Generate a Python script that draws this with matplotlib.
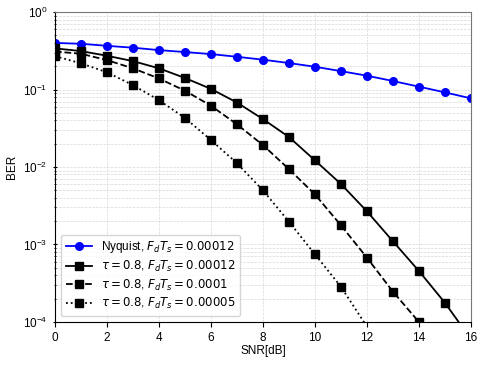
import numpy as np
import matplotlib
matplotlib.use("Agg")
import matplotlib.pyplot as plt

snr = np.arange(0, 17)

ber_nyquist = [0.40, 0.39, 0.367, 0.347, 0.323, 0.305, 0.287, 0.265, 0.243,
               0.22, 0.197, 0.173, 0.151, 0.129, 0.109, 0.092, 0.077]
ber_tau_12 = [0.34, 0.314, 0.273, 0.233, 0.188, 0.141, 0.102, 0.068, 0.0416,
              0.0244, 0.0122, 0.00604, 0.00268, 0.0011, 0.000455, 0.000177, 0.00006]
ber_tau_10 = [0.31, 0.29, 0.24, 0.188, 0.139, 0.0966, 0.0618, 0.0356, 0.0192,
              0.0094, 0.00443, 0.00177, 0.000676, 0.000246, 0.0001, 0.00003, 0.00001]
ber_tau_05 = [0.27, 0.218, 0.167, 0.114, 0.073, 0.043, 0.0223, 0.0112, 0.005,
              0.00197, 0.000747, 0.000285, 0.000087, 0.00002, 0.000005, 0.000001, 0.0000002]

labels = [
    r"Nyquist, $F_dT_s = 0.00012$",
    r"$\tau = 0.8$, $F_dT_s = 0.00012$",
    r"$\tau = 0.8$, $F_dT_s = 0.0001$",
    r"$\tau = 0.8$, $F_dT_s = 0.00005$",
]

plt.rcParams["mathtext.fontset"] = "dejavusans"
plt.rcParams["font.family"] = ["Liberation Sans", "DejaVu Sans"]

fig = plt.figure(figsize=(4.78, 3.67), dpi=100)
ax = fig.add_axes([0.115, 0.123, 0.87, 0.844])

ax.semilogy(snr, ber_nyquist, "-o", color="blue", linewidth=1.3, markersize=5.5, label=labels[0])
ax.semilogy(snr, ber_tau_12, "-s", color="black", linewidth=1.3, markersize=5.5, label=labels[1])
ax.semilogy(snr, ber_tau_10, "--s", color="black", linewidth=1.3, markersize=5.5, label=labels[2])
ax.semilogy(snr, ber_tau_05, ":s", color="black", linewidth=1.3, markersize=5.5, label=labels[3])

ax.set_xlim(0, 16)
ax.set_ylim(1e-4, 1)
ax.set_xticks(range(0, 17, 2))
ax.grid(True, which="both", linestyle="--", linewidth=0.5, color="#d8d8d8")
ax.tick_params(labelsize=8.5)
ax.tick_params(axis="y", which="both", direction="inout")
ax.set_xlabel("SNR[dB]", fontsize=8.5, labelpad=1)
ax.set_ylabel("BER", fontsize=8.5)
for side in ["top", "right"]:
    ax.spines[side].set_color("#777777")

ax.legend(loc="lower left", fontsize=8.5, handlelength=2.2, borderpad=0.4,
          labelspacing=0.3, handletextpad=0.8)

fig.savefig("out.png", dpi=100)
